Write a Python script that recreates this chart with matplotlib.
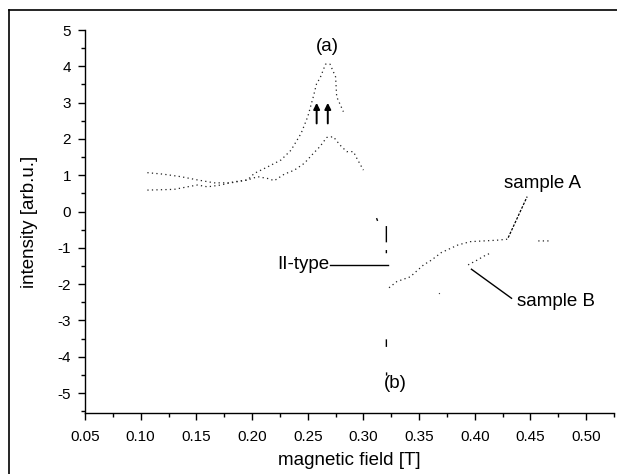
import matplotlib
matplotlib.use("Agg")
import matplotlib.pyplot as plt
from matplotlib.lines import Line2D
from matplotlib.ticker import MultipleLocator
import numpy as np

plt.rcParams['font.family'] = ['Liberation Sans', 'DejaVu Sans']
plt.rcParams['axes.unicode_minus'] = False

nan = np.nan

# (a) upper trace, sample A
a_up_x = [0.106, 0.120, 0.136, 0.151, 0.166, 0.181, 0.196, 0.202, 0.214, 0.226,
          0.235, 0.244, 0.250, 0.255, 0.258, 0.261, 0.266, 0.270, 0.275, 0.276, 0.282]
a_up_y = [1.07, 1.03, 0.96, 0.87, 0.79, 0.79, 0.87, 1.05, 1.23, 1.42,
          1.69, 2.15, 2.61, 3.16, 3.53, 3.67, 4.06, 4.06, 3.71, 3.16, 2.75]

# (a) lower trace, sample B
a_lo_x = [0.106, 0.130, 0.142, 0.151, 0.160, 0.172, 0.184, 0.196, 0.205, 0.214,
          0.220, 0.229, 0.238, 0.247, 0.255, 0.261, 0.267, 0.273, 0.279, 0.285,
          0.291, 0.294, 0.300]
a_lo_y = [0.59, 0.61, 0.68, 0.73, 0.68, 0.73, 0.82, 0.87, 0.96, 0.91,
          0.85, 1.03, 1.14, 1.33, 1.60, 1.79, 2.04, 2.06, 1.83, 1.65,
          1.65, 1.47, 1.14]

# (b) trace, sample A
b_a_x = [0.323, 0.330, 0.342, 0.354, 0.361, 0.370, 0.385, 0.396, 0.408, 0.420, 0.430,
         nan, 0.457, 0.469]
b_a_y = [-2.10, -1.93, -1.80, -1.47, -1.34, -1.13, -0.92, -0.83, -0.81, -0.79, -0.76,
         nan, -0.81, -0.81]

# (b) trace, sample B
b_b_x = [0.368, 0.3685, nan, 0.394, 0.402, 0.411, 0.415]
b_b_y = [-2.25, -2.27, nan, -1.47, -1.34, -1.18, -1.15]

# (b) steep line near resonance (only fragments visible)
b_v_x = [0.312, 0.3125, nan, 0.3206, 0.3206, nan, 0.3206, 0.3206, nan,
         0.3206, 0.3206, nan, 0.3208, 0.3208]
b_v_y = [-0.20, -0.24, nan, -0.42, -0.83, nan, -1.08, -1.13, nan,
         -3.54, -3.71, nan, -4.45, -4.50]

arrow_x = [0.258, 0.268]
arrow_y0 = 2.35
arrow_y1 = 3.07

fig = plt.figure(figsize=(6.17, 4.74), dpi=100)
ax = fig.add_axes([85 / 617, 1 - 413 / 474, (614 - 85) / 617, (413 - 30) / 474])

dots = (0, (1, 2.6))
ax.plot(a_up_x, a_up_y, color='#222222', lw=0.9, ls=dots)
ax.plot(a_lo_x, a_lo_y, color='#222222', lw=0.9, ls=dots)
ax.plot(b_a_x, b_a_y, color='#222222', lw=0.9, ls=dots)
ax.plot(b_b_x, b_b_y, color='#222222', lw=0.9, ls=dots)
ax.plot(b_v_x, b_v_y, color='black', lw=1.0)

for xa in arrow_x:
    ax.annotate('', xy=(xa, arrow_y1), xytext=(xa, arrow_y0),
                arrowprops=dict(arrowstyle='-|>', color='black', lw=1.4,
                                mutation_scale=9))

# labels and leader lines
fs = 13.5
ax.text(0.268, 4.55, '(a)', fontsize=fs, ha='center', va='center')
ax.text(0.329, -4.73, '(b)', fontsize=fs, ha='center', va='center')
ax.text(0.269, -1.47, 'II-type', fontsize=fs, ha='right', va='center')
ax.plot([0.270, 0.322], [-1.47, -1.47], color='black', lw=1.0)
ax.text(0.461, 0.78, 'sample A', fontsize=fs, ha='center', va='center')
ax.plot([0.430, 0.447], [-0.72, 0.41], color='black', lw=0.9, ls=(0, (2, 1.2)))
ax.text(0.438, -2.47, 'sample B', fontsize=fs, ha='left', va='center')
ax.plot([0.397, 0.433], [-1.59, -2.39], color='black', lw=1.0)

ax.set_xlim(0.05, 0.525)
ax.set_ylim(-5.55, 5.0)
ax.xaxis.set_minor_locator(MultipleLocator(0.025))
ax.yaxis.set_minor_locator(MultipleLocator(0.5))
ax.set_xticks([0.05, 0.10, 0.15, 0.20, 0.25, 0.30, 0.35, 0.40, 0.45, 0.50])
ax.set_xticklabels(['0.05', '0.10', '0.15', '0.20', '0.25', '0.30', '0.35',
                    '0.40', '0.45', '0.50'])
ax.set_yticks(range(-5, 6))
ax.set_yticklabels([str(v) for v in range(-5, 6)])
ax.tick_params(which='major', direction='out', length=5, width=1, labelsize=11)
ax.tick_params(axis='x', which='major', pad=7)
ax.tick_params(axis='y', which='major', pad=5)
ax.tick_params(which='minor', direction='out', length=3, width=1)

for s in ['top', 'right']:
    ax.spines[s].set_visible(False)
ax.spines['left'].set_linewidth(1.0)
ax.spines['bottom'].set_linewidth(1.0)

ax.set_xlabel('magnetic field [T]', fontsize=fs, labelpad=6)
ax.set_ylabel('intensity [arb.u.]', fontsize=fs, labelpad=14)

# outer frame (top and left edges visible)
fig.add_artist(Line2D([9 / 617, 1.0], [1 - 10 / 474, 1 - 10 / 474],
                      transform=fig.transFigure, color='black', lw=1.2))
fig.add_artist(Line2D([9 / 617, 9 / 617], [0.0, 1 - 10 / 474],
                      transform=fig.transFigure, color='black', lw=1.2))

fig.savefig('out.png', dpi=100)
